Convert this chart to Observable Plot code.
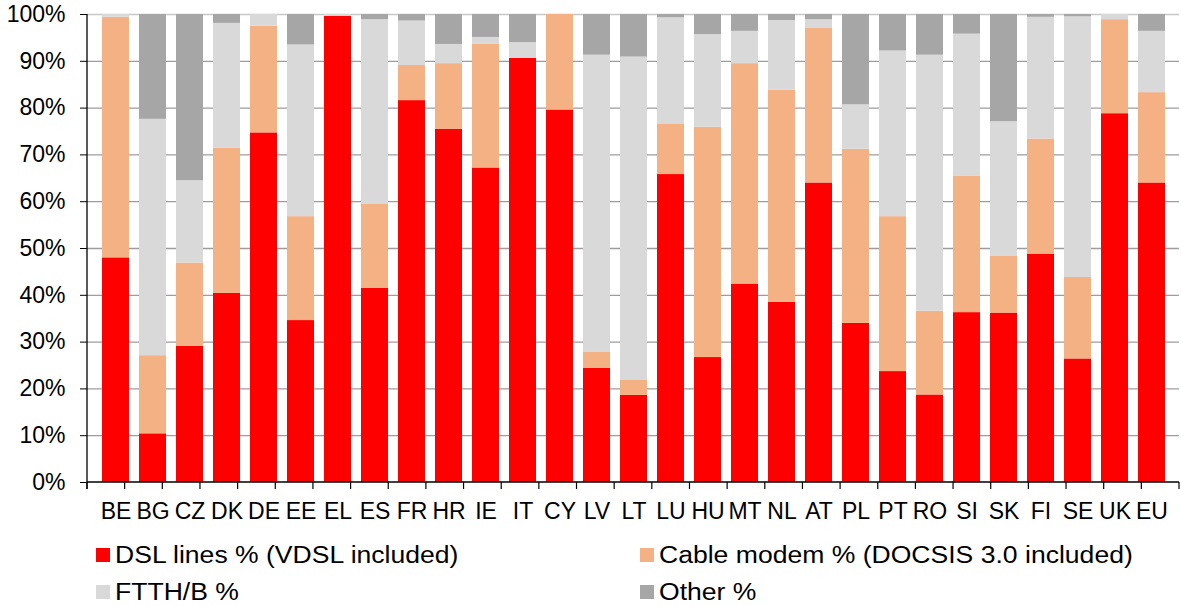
<!DOCTYPE html>
<html>
<head>
<meta charset="utf-8">
<script src="https://cdn.jsdelivr.net/npm/d3@7"></script>
<script src="https://cdn.jsdelivr.net/npm/@observablehq/plot@0.6"></script>
<style>
  html, body { margin: 0; padding: 0; background: #fff; }
  #wrap { position: relative; width: 1181px; height: 606px; font-family: "Liberation Sans", Arial, sans-serif; }
  .leg { position: absolute; display: flex; align-items: center; height: 28px; font-size: 23.5px; color: #000; white-space: nowrap; }
  .sw { width: 14px; height: 14px; margin-right: 5px; flex: none; }
  .lt { display: inline-block; transform: scaleX(1.13); transform-origin: left center; }
</style>
</head>
<body>
<div id="wrap"></div>
<script>
const countries = ["BE","BG","CZ","DK","DE","EE","EL","ES","FR","HR","IE","IT","CY","LV","LT","LU","HU","MT","NL","AT","PL","PT","RO","SI","SK","FI","SE","UK","EU"];
const seriesNames = ["DSL lines % (VDSL included)", "Cable modem % (DOCSIS 3.0 included)", "FTTH/B %", "Other %"];
const seriesColors = ["#ff0000", "#f4b183", "#d9d9d9", "#a6a6a6"];
const dsl   = [48.0,10.4,29.1,40.4,74.7,34.6,99.6,41.5,81.6,75.5,67.2,90.6,79.6,24.4,18.6,65.8,26.7,42.4,38.5,64.0,34.0,23.7,18.7,36.3,36.2,48.8,26.4,78.8,64.0];
const cable = [51.4,16.7,17.8,31.0,22.8,22.2, 0.0,17.9, 7.5,14.0,26.5, 0.0,20.4, 3.5, 3.2,10.7,49.2,47.1,45.3,33.0,37.2,33.1,17.9,29.1,12.1,24.6,17.4,20.1,19.3];
const ftth  = [ 0.6,50.5,17.6,26.7, 2.5,36.7, 0.4,39.5, 9.5, 4.1, 1.4, 3.4, 0.0,63.4,69.1,22.8,19.8, 6.9,14.9, 1.9, 9.5,35.4,54.7,30.4,28.8,26.0,55.7, 1.1,13.1];
const other = [ 0.0,22.4,35.5, 1.9, 0.0, 6.5, 0.0, 1.1, 1.4, 6.4, 4.9, 6.0, 0.0, 8.7, 9.1, 0.7, 4.3, 3.6, 1.3, 1.1,19.3, 7.8, 8.7, 4.2,22.9, 0.6, 0.5, 0.0, 3.6];
const yTicks = [0,10,20,30,40,50,60,70,80,90,100];
const gridTicks = [10,20,30,40,50,60,70,80,90];

const seriesValues = [dsl, cable, ftth, other];
const rows = [];
seriesNames.forEach((s, si) => countries.forEach((c, ci) => rows.push({country: c, series: s, value: seriesValues[si][ci]})));

const W = 1181, H = 530, ML = 87, MR = 2, MT = 14, MB = 48;

const boundaryTicks = (index, scales, values, dims) => {
  const g = d3.create("svg:g");
  const left = dims.marginLeft, right = dims.width - dims.marginRight;
  const bottom = dims.height - dims.marginBottom, top = dims.marginTop;
  const n = countries.length, step = (right - left) / n;
  g.append("line").attr("x1", left).attr("x2", right).attr("y1", bottom).attr("y2", bottom).attr("stroke", "#000").attr("stroke-width", 1.3);
  g.append("line").attr("x1", left).attr("x2", left).attr("y1", top).attr("y2", bottom + 7).attr("stroke", "#000").attr("stroke-width", 1.3);
  for (let i = 0; i <= n; i++) {
    const xx = left + i * step;
    g.append("line").attr("x1", xx).attr("x2", xx).attr("y1", bottom).attr("y2", bottom + 7).attr("stroke", "#000").attr("stroke-width", 1.2);
  }
  return g.node();
};

const chart = Plot.plot({
  width: W, height: H,
  marginLeft: ML, marginRight: MR, marginTop: MT, marginBottom: MB,
  style: {fontFamily: '"Liberation Sans", Arial, sans-serif', fontSize: "23px", color: "#000", background: "#fff"},
  x: {domain: countries, paddingInner: 0.275, paddingOuter: 0.1375, label: null},
  y: {domain: [0, 100], label: null},
  color: {domain: seriesNames, range: seriesColors},
  marks: [
    Plot.ruleY(gridTicks, {stroke: "#9d9d9d", strokeWidth: 1.3}),
    Plot.ruleY([100], {stroke: "#c8c8c8", strokeWidth: 1.3}),
    Plot.barY(rows, Plot.stackY({order: seriesNames}, {x: "country", y: "value", fill: "series"})),
    Plot.axisY({ticks: yTicks, tickFormat: d => d + "%", tickSize: 7, tickPadding: 15, stroke: "#000", fontSize: 23, label: null}),
    Plot.axisX({tickSize: 0, tickPadding: 20, fontSize: 23, label: null}),
    boundaryTicks
  ]
});

const wrap = document.getElementById("wrap");
wrap.appendChild(chart);

const legendPos = [
  {left: 96, top: 541},
  {left: 640, top: 541},
  {left: 96, top: 578},
  {left: 640, top: 578}
];
seriesNames.forEach((s, i) => {
  const d = document.createElement("div");
  d.className = "leg";
  d.style.left = legendPos[i].left + "px";
  d.style.top = legendPos[i].top + "px";
  const sw = document.createElement("span");
  sw.className = "sw";
  sw.style.background = seriesColors[i];
  const t = document.createElement("span");
  t.className = "lt";
  t.textContent = s;
  d.appendChild(sw); d.appendChild(t);
  wrap.appendChild(d);
});
</script>
</body>
</html>
